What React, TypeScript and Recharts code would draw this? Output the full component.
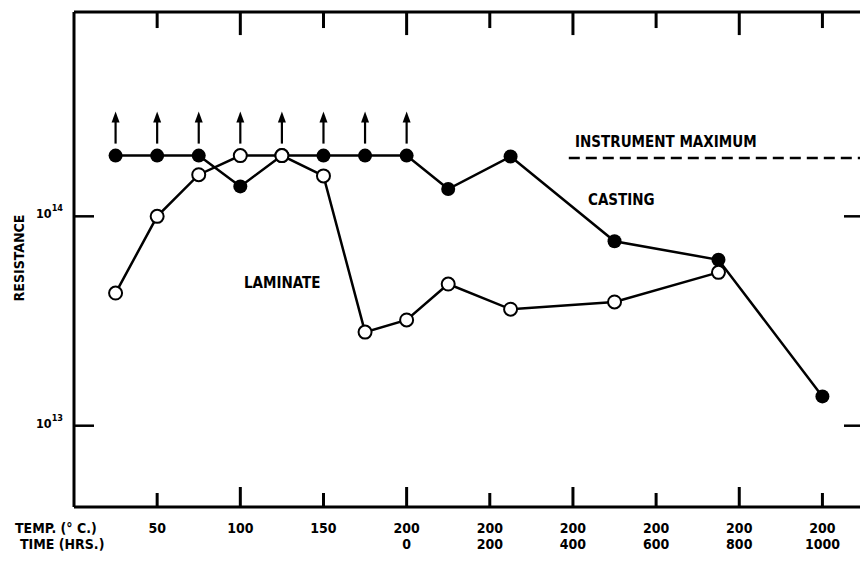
import { Line, LineChart, ReferenceLine, XAxis, YAxis } from "recharts"

// heating steps (°C), then ageing at 200 °C (hours)
const temps = [25, 50, 75, 100, 125, 150, 175, 200]
const hours = [100, 250, 500, 750, 1000]

const castingTemp = [1.95e14, 1.95e14, 1.95e14, 1.39e14, 1.95e14, 1.95e14, 1.95e14, 1.95e14]
const castingAge = [1.35e14, 1.93e14, 7.6e13, 6.2e13, 1.38e13]
const laminateTemp = [4.3e13, 1.0e14, 1.58e14, 1.95e14, 1.95e14, 1.56e14, 2.8e13, 3.2e13]
const laminateAge = [4.75e13, 3.6e13, 3.9e13, 5.4e13, null]

// readings at the instrument maximum (drawn with an arrow)
const castingAtMax = [true, true, true, false, true, true, true, true]
const laminateAtMax = [false, false, false, true, false, false, false, false]

const instrumentMax = 1.9e14

const tempLabels = ["50", "100", "150", "200", "200", "200", "200", "200", "200"]
const timeLabels = ["", "", "", "0", "200", "400", "600", "800", "1000"]
const xTicks = [1, 2, 3, 4, 5, 6, 7, 8, 9]
const yTicks = [1e13, 1e14]
const yDomain = [4.09e12, 9.46e14]
// lower ends of the tick marks hanging from the top frame (short / long)
const topTickEnds = [7.93e14, 7.34e14]

const FONT = "'DejaVu Sans Condensed', 'DejaVu Sans', sans-serif"

// one axis unit per tick: 50 °C per unit while heating, 200 h per unit while ageing
const data = [
  ...temps.map((t, i) => ({
    x: t / 50,
    casting: castingTemp[i],
    laminate: laminateTemp[i],
    cMax: castingAtMax[i],
    lMax: laminateAtMax[i],
    half: t === 125,
  })),
  ...hours.map((h, i) => ({
    x: 4 + h / 200,
    casting: castingAge[i],
    laminate: laminateAge[i],
    cMax: false,
    lMax: false,
    half: false,
  })),
]

function Arrow({ cx, cy }: { cx: number; cy: number }) {
  return (
    <g>
      <line x1={cx} y1={cy - 12} x2={cx} y2={cy - 36} stroke="#000" strokeWidth={2.2} />
      <path d={`M${cx - 4},${cy - 33} L${cx},${cy - 44} L${cx + 4},${cy - 33} Z`} fill="#000" />
    </g>
  )
}

function CastingDot(props: any) {
  const { cx, cy, payload, index } = props
  if (cx == null || cy == null || payload.casting == null) return <g key={`c${index}`} />
  return (
    <g key={`c${index}`}>
      {payload.half ? (
        <g>
          <circle cx={cx} cy={cy} r={6.5} fill="#fff" stroke="#000" strokeWidth={2} />
          <path d={`M${cx - 6.5},${cy} A6.5,6.5 0 0 1 ${cx + 6.5},${cy} Z`} fill="#000" />
        </g>
      ) : (
        <circle cx={cx} cy={cy} r={7} fill="#000" />
      )}
      {payload.cMax && <Arrow cx={cx} cy={cy} />}
    </g>
  )
}

function LaminateDot(props: any) {
  const { cx, cy, payload, index } = props
  if (cx == null || cy == null || payload.laminate == null) return <g key={`l${index}`} />
  return (
    <g key={`l${index}`}>
      <circle cx={cx} cy={cy} r={6.5} fill="#fff" stroke="#000" strokeWidth={2} />
      {payload.lMax && <Arrow cx={cx} cy={cy} />}
    </g>
  )
}

// tick marks point up into the plot; two label rows below
function BottomTick(props: any) {
  const x = Number(props.x)
  const y = Number(props.y)
  const i = Math.round(Number(props.payload.value)) - 1
  const len = i % 2 === 0 ? 14 : 20
  return (
    <g>
      <line x1={x} y1={y} x2={x} y2={y - len} stroke="#000" strokeWidth={3} />
      <text x={x} y={y + 26} textAnchor="middle" fontFamily={FONT} fontWeight="bold" fontSize={14} fill="#000">
        {tempLabels[i]}
      </text>
      <text x={x} y={y + 42} textAnchor="middle" fontFamily={FONT} fontWeight="bold" fontSize={14} fill="#000">
        {timeLabels[i]}
      </text>
    </g>
  )
}

function LeftTick(props: any) {
  const x = Number(props.x)
  const y = Number(props.y)
  const exp = Math.round(Math.log10(props.payload.value))
  return (
    <g>
      <line x1={x} y1={y} x2={x + 20} y2={y} stroke="#000" strokeWidth={2.5} />
      <text x={x - 38} y={y + 2} textAnchor="start" fontFamily={FONT} fontWeight="bold" fontSize={12.5} fill="#000">
        10
        <tspan dy={-7} fontSize={9}>
          {exp}
        </tspan>
      </text>
    </g>
  )
}

function RightTick(props: any) {
  const x = Number(props.x)
  const y = Number(props.y)
  return <line x1={x} y1={y} x2={x - 20} y2={y} stroke="#000" strokeWidth={2.5} />
}

const textStyle = { fontFamily: FONT, fontWeight: "bold" as const, fill: "#000" }

export default function App() {
  return (
    <div style={{ position: "absolute", left: 0, top: 0, width: 860, height: 563, overflow: "hidden", background: "#fff" }}>
      <LineChart width={880} height={563} data={data} margin={{ top: 12, right: 0, bottom: 0, left: 0 }}>
        <XAxis
          xAxisId="b"
          dataKey="x"
          type="number"
          domain={[0, 9.5]}
          allowDataOverflow
          ticks={xTicks}
          interval={0}
          height={56}
          tickSize={0}
          tickMargin={0}
          tick={<BottomTick />}
          axisLine={{ stroke: "#000", strokeWidth: 3 }}
        />
        <YAxis
          yAxisId="l"
          scale="log"
          type="number"
          domain={yDomain}
          allowDataOverflow
          ticks={yTicks}
          width={74}
          tickSize={0}
          tickMargin={0}
          tick={<LeftTick />}
          axisLine={{ stroke: "#000", strokeWidth: 3 }}
        />
        <YAxis
          yAxisId="r"
          orientation="right"
          scale="log"
          type="number"
          domain={yDomain}
          allowDataOverflow
          ticks={yTicks}
          width={16}
          tickSize={0}
          tickMargin={0}
          tick={<RightTick />}
          axisLine={{ stroke: "#000", strokeWidth: 3 }}
        />
        {/* top frame and its tick marks */}
        <ReferenceLine xAxisId="b" yAxisId="l" y={yDomain[1]} stroke="#000" strokeWidth={3} ifOverflow="visible" />
        {xTicks.map((t) => (
          <ReferenceLine
            key={`tt${t}`}
            xAxisId="b"
            yAxisId="l"
            segment={[
              { x: t, y: yDomain[1] },
              { x: t, y: topTickEnds[t % 2 === 1 ? 0 : 1] },
            ]}
            stroke="#000"
            strokeWidth={3}
            ifOverflow="visible"
          />
        ))}
        <ReferenceLine
          xAxisId="b"
          yAxisId="l"
          segment={[
            { x: 5.95, y: instrumentMax },
            { x: 9.5, y: instrumentMax },
          ]}
          stroke="#000"
          strokeWidth={2.5}
          strokeDasharray="11 6"
          ifOverflow="visible"
        />
        <Line
          xAxisId="b"
          yAxisId="l"
          type="linear"
          dataKey="casting"
          stroke="#000"
          strokeWidth={2.5}
          dot={CastingDot}
          activeDot={false}
          isAnimationActive={false}
        />
        <Line
          xAxisId="b"
          yAxisId="l"
          type="linear"
          dataKey="laminate"
          stroke="#000"
          strokeWidth={2.5}
          dot={LaminateDot}
          activeDot={false}
          connectNulls={false}
          isAnimationActive={false}
        />
      </LineChart>
      <svg width={860} height={563} style={{ position: "absolute", left: 0, top: 0, pointerEvents: "none" }}>
        <text x={15} y={533} fontSize={14} {...textStyle}>
          TEMP. (° C.)
        </text>
        <text x={20} y={549} fontSize={14} {...textStyle}>
          TIME (HRS.)
        </text>
        <text x={0} y={0} fontSize={14} textAnchor="middle" transform="translate(24,258) rotate(-90)" {...textStyle}>
          RESISTANCE
        </text>
        <text x={575} y={147} fontSize={15} {...textStyle}>
          INSTRUMENT MAXIMUM
        </text>
        <text x={588} y={205} fontSize={15} {...textStyle}>
          CASTING
        </text>
        <text x={244} y={288} fontSize={15} {...textStyle}>
          LAMINATE
        </text>
      </svg>
    </div>
  )
}
